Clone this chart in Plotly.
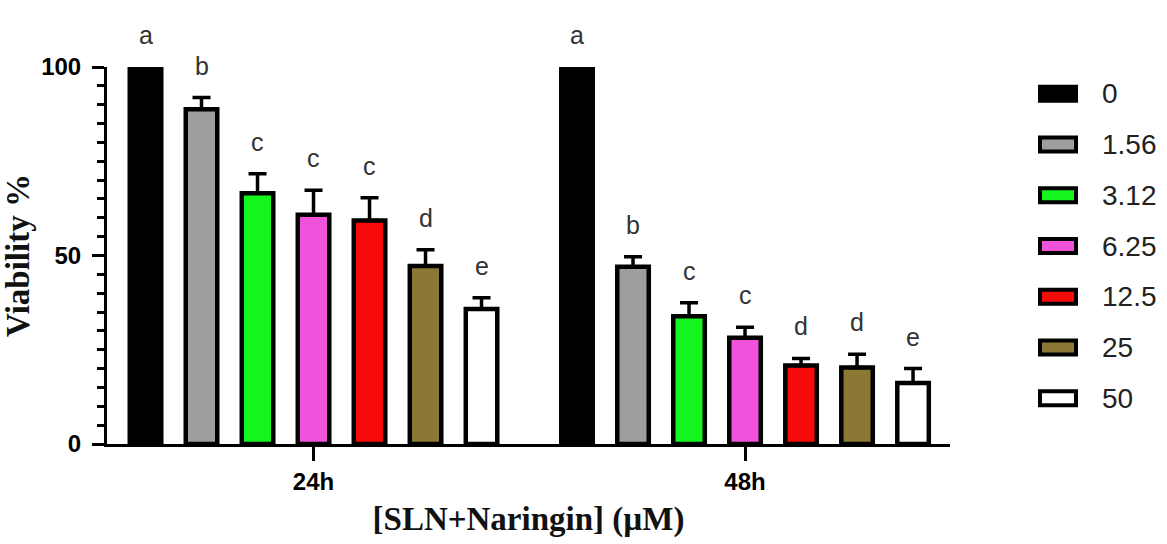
import plotly.graph_objects as go

# ---- data ----
times = ["24h", "48h"]
concentrations = ["0", "1.56", "3.12", "6.25", "12.5", "25", "50"]
viability_24h = [100, 88.8, 66.5, 60.8, 59.3, 47.2, 35.8]
error_24h = [0, 3.1, 5.2, 6.5, 6.0, 4.3, 3.0]
viability_48h = [100, 47.0, 33.9, 28.2, 20.8, 20.3, 16.2]
error_48h = [0, 2.7, 3.6, 2.8, 1.9, 3.5, 3.8]
letters_24h = ["a", "b", "c", "c", "c", "d", "e"]
letters_48h = ["a", "b", "c", "c", "d", "d", "e"]
colors = ["#000000", "#9e9ea0", "#14f51e", "#f052dc", "#f70a0a", "#8a7834", "#ffffff"]

# ---- layout constants ----
W, H = 1167, 544
ML, MR, MT, MB = 107, 217, 67, 96
BARGAP = 0.0915
BARGROUPGAP = 0.4375
SANS = "Liberation Sans, Arial, sans-serif"
SERIF = "Liberation Serif, Times New Roman, serif"

fig = go.Figure()
n = len(concentrations)
for i, c in enumerate(concentrations):
    fig.add_trace(go.Bar(
        name=c,
        x=times,
        y=[viability_24h[i], viability_48h[i]],
        marker=dict(color=colors[i], line=dict(color="black", width=4.5)),
        error_y=dict(type="data", symmetric=False,
                     array=[error_24h[i], error_48h[i]],
                     arrayminus=[0, 0],
                     color="black", thickness=3.5, width=9),
        showlegend=False,
    ))

# significance letters
pitch = (1 - BARGAP) / n
annotations = []
for t_idx, (vals, errs, lets) in enumerate([(viability_24h, error_24h, letters_24h),
                                             (viability_48h, error_48h, letters_48h)]):
    for i in range(n):
        annotations.append(dict(
            x=t_idx + (i - (n - 1) / 2) * pitch, y=vals[i] + errs[i],
            xref="x", yref="y", text=lets[i], showarrow=False,
            yanchor="middle", yshift=32,
            font=dict(family=SANS, size=25, color="#333333"),
        ))

# manual legend
plot_w = W - ML - MR
plot_h = H - MT - MB
def px_x(px):
    return (px - ML) / plot_w
def px_y(py):
    return (H - MB - py) / plot_h

leg_first_py, leg_step = 94, 51.3
shapes = []
for i, c in enumerate(concentrations):
    cy = leg_first_py + i * leg_step
    shapes.append(dict(type="rect", xref="paper", yref="paper",
                       x0=px_x(1040), x1=px_x(1076), y0=px_y(cy + 7), y1=px_y(cy - 7),
                       fillcolor=colors[i], line=dict(color="black", width=4)))
    annotations.append(dict(x=px_x(1100), y=px_y(cy), xref="paper", yref="paper",
                            text=c, showarrow=False, xanchor="left", yanchor="middle",
                            font=dict(family=SANS, size=28, color="#222222")))

fig.update_layout(
    width=W, height=H,
    margin=dict(l=ML, r=MR, t=MT, b=MB),
    paper_bgcolor="white", plot_bgcolor="white",
    barmode="group", bargap=BARGAP, bargroupgap=BARGROUPGAP,
    annotations=annotations, shapes=shapes,
    xaxis=dict(
        type="category", range=[-0.4786, 1.475],
        showline=True, linecolor="black", linewidth=3,
        ticks="outside", ticklen=14, tickwidth=3, tickcolor="black",
        tickfont=dict(family=SANS, size=24, color="black", weight="bold"),
        showgrid=False, zeroline=False,
        title=dict(text="[SLN+Naringin] (µM)", standoff=14,
                   font=dict(family=SERIF, size=33, color="#111111", weight="bold")),
    ),
    yaxis=dict(
        range=[0, 100], tickvals=[0, 50, 100],
        showline=True, linecolor="black", linewidth=3,
        ticks="outside", ticklen=12, tickwidth=3, tickcolor="black",
        ticklabelstandoff=6,
        minor=dict(dtick=5, ticks="outside", ticklen=7, tickwidth=3, tickcolor="black"),
        tickfont=dict(family=SANS, size=24, color="black", weight="bold"),
        showgrid=False, zeroline=False,
        title=dict(text="Viability %", standoff=6,
                   font=dict(family=SERIF, size=33, color="#111111", weight="bold")),
    ),
)

fig.write_html("out.html", config={"displayModeBar": False},
               post_script="document.body.style.margin='0';document.body.style.overflow='hidden';")
